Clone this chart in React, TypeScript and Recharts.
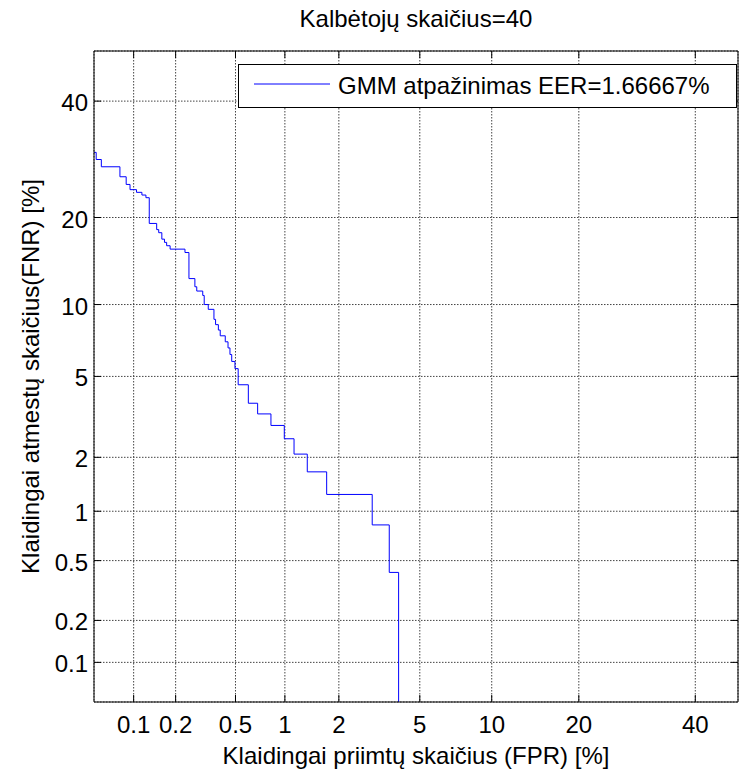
import React from 'react';
import { LineChart, Line, XAxis, YAxis, CartesianGrid, Legend } from 'recharts';

// DET curve values, in percent
const fprTicks = [0.1, 0.2, 0.5, 1, 2, 5, 10, 20, 40];
const fnrTicks = [0.1, 0.2, 0.5, 1, 2, 5, 10, 20, 40];
const axisMinPct = 0.05;
const fprMaxPct = 48.5;
const fnrMaxPct = 50;

const fpr = [
  0.05, 0.052, 0.057, 0.079, 0.088, 0.094, 0.105, 0.115, 0.123, 0.13,
  0.147, 0.152, 0.16, 0.167, 0.173, 0.183, 0.232, 0.247, 0.271, 0.279,
  0.306, 0.313, 0.333, 0.363, 0.372, 0.388, 0.399, 0.43, 0.448, 0.461,
  0.473, 0.496, 0.52, 0.602, 0.687, 0.827, 0.992, 1.13, 1.344, 1.72,
  2.97, 3.6, 3.99,
];
const fnr = [
  30.42, 29.17, 27.92, 26.25, 25.0, 24.17, 23.75, 23.33, 22.92, 19.17,
  18.33, 17.92, 17.08, 16.67, 16.25, 15.83, 15.42, 12.5, 11.67, 11.25,
  10.83, 10.0, 9.58, 8.75, 8.33, 7.92, 7.5, 7.08, 6.67, 6.25,
  5.83, 5.42, 4.58, 3.75, 3.33, 2.92, 2.5, 2.08, 1.67, 1.25,
  0.83, 0.42, 0,
];

const seriesName = 'GMM atpažinimas EER=1.66667%';
const FONT = '"Liberation Sans", Arial, Helvetica, sans-serif';
const FS = 24;

// normal deviate (probit) of a percentage, Acklam's approximation
function ppnd(pct: number): number {
  const p = pct / 100;
  if (p <= 0) return -6;
  if (p >= 1) return 6;
  const a = [-39.69683028665376, 220.9460984245205, -275.9285104469687, 138.357751867269, -30.66479806614716, 2.506628277459239];
  const b = [-54.47609879822406, 161.5858368580409, -155.6989798598866, 66.80131188771972, -13.28068155288572];
  const c = [-0.007784894002430293, -0.3223964580411365, -2.400758277161838, -2.549732539343734, 4.374664141464968, 2.938163982698783];
  const d = [0.007784695709041462, 0.3224671290700398, 2.445134137142996, 3.754408661907416];
  const lo = 0.02425;
  if (p < lo) {
    const q = Math.sqrt(-2 * Math.log(p));
    return (((((c[0] * q + c[1]) * q + c[2]) * q + c[3]) * q + c[4]) * q + c[5]) /
      ((((d[0] * q + d[1]) * q + d[2]) * q + d[3]) * q + 1);
  }
  if (p <= 1 - lo) {
    const q = p - 0.5;
    const r = q * q;
    return (((((a[0] * r + a[1]) * r + a[2]) * r + a[3]) * r + a[4]) * r + a[5]) * q /
      (((((b[0] * r + b[1]) * r + b[2]) * r + b[3]) * r + b[4]) * r + 1);
  }
  const q = Math.sqrt(-2 * Math.log(1 - p));
  return -(((((c[0] * q + c[1]) * q + c[2]) * q + c[3]) * q + c[4]) * q + c[5]) /
    ((((d[0] * q + d[1]) * q + d[2]) * q + d[3]) * q + 1);
}

const data = fpr.map((v, i) => ({ x: ppnd(v), y: ppnd(fnr[i]) }));

const TICK = 7;

const BottomTick = (props: any) => {
  const { x, y, index } = props;
  return (
    <g>
      <line x1={x} y1={y} x2={x} y2={y - TICK} stroke="#000" />
      <text x={x} y={y + 31} textAnchor="middle" fontSize={FS} fontFamily={FONT} fill="#000">
        {fprTicks[index]}
      </text>
    </g>
  );
};

const TopTick = (props: any) => {
  const { x, y } = props;
  return <line x1={x} y1={y} x2={x} y2={y + TICK} stroke="#000" />;
};

const LeftTick = (props: any) => {
  const { x, y, index } = props;
  return (
    <g>
      <line x1={x} y1={y} x2={x + TICK} y2={y} stroke="#000" />
      <text x={x - 6} y={y + 10} textAnchor="end" fontSize={FS} fontFamily={FONT} fill="#000">
        {fnrTicks[index]}
      </text>
    </g>
  );
};

const RightTick = (props: any) => {
  const { x, y } = props;
  return <line x1={x - TICK} y1={y} x2={x} y2={y} stroke="#000" />;
};

const LegendBox = () => (
  <div
    style={{
      border: '1px solid #000',
      background: '#fff',
      width: 499,
      height: 44,
      display: 'flex',
      alignItems: 'center',
      boxSizing: 'border-box',
      fontFamily: FONT,
      fontSize: FS,
      color: '#000',
      whiteSpace: 'nowrap',
    }}
  >
    <svg width={99} height={20} style={{ display: 'block', flex: 'none' }}>
      <line x1={15} y1={8} x2={91} y2={8} stroke="#0000ff" strokeWidth={1} />
    </svg>
    <span>{seriesName}</span>
  </div>
);

export default function App() {
  const xDomain = [ppnd(axisMinPct), ppnd(fprMaxPct)];
  const yDomain = [ppnd(axisMinPct), ppnd(fnrMaxPct)];
  return (
    <div style={{ position: 'relative', width: 739, height: 774, background: '#fff' }}>
      <style>{'body{margin:0}'}</style>
      <div
        style={{
          position: 'absolute',
          top: 7,
          left: 94,
          width: 644,
          textAlign: 'center',
          fontFamily: FONT,
          fontSize: FS,
          lineHeight: 1,
          color: '#000',
        }}
      >
        Kalbėtojų skaičius=40
      </div>
      <LineChart width={739} height={774} data={data} margin={{ top: 41, right: 0, bottom: 42, left: 34 }}>
        <CartesianGrid
          xAxisId="b"
          yAxisId="l"
          stroke="#444"
          strokeDasharray="1.5 1.5"
          strokeWidth={1}
        />
        <XAxis
          xAxisId="b"
          dataKey="x"
          type="number"
          domain={xDomain}
          ticks={fprTicks.map(ppnd)}
          allowDataOverflow
          height={30}
          tickSize={0}
          tickMargin={0}
          tickLine={false}
          axisLine={{ stroke: '#000' }}
          tick={<BottomTick />}
          interval={0}
          label={{
            value: 'Klaidingai priimtų skaičius (FPR) [%]',
            position: 'bottom',
            offset: 15,
            style: { fontFamily: FONT, fontSize: FS, fill: '#000' },
          }}
        />
        <XAxis
          xAxisId="t"
          orientation="top"
          dataKey="x"
          type="number"
          domain={xDomain}
          ticks={fprTicks.map(ppnd)}
          allowDataOverflow
          height={10}
          tickSize={0}
          tickMargin={0}
          tickLine={false}
          axisLine={{ stroke: '#000' }}
          tick={<TopTick />}
          interval={0}
        />
        <YAxis
          yAxisId="l"
          dataKey="y"
          type="number"
          domain={yDomain}
          ticks={fnrTicks.map(ppnd)}
          allowDataOverflow
          width={60}
          tickSize={0}
          tickMargin={0}
          tickLine={false}
          axisLine={{ stroke: '#000' }}
          tick={<LeftTick />}
          interval={0}
          label={{
            value: 'Klaidingai atmestų skaičius(FNR) [%]',
            angle: -90,
            position: 'left',
            offset: 4,
            style: { fontFamily: FONT, fontSize: FS, fill: '#000', textAnchor: 'middle' },
          }}
        />
        <YAxis
          yAxisId="r"
          orientation="right"
          dataKey="y"
          type="number"
          domain={yDomain}
          ticks={fnrTicks.map(ppnd)}
          allowDataOverflow
          width={1}
          tickSize={0}
          tickMargin={0}
          tickLine={false}
          axisLine={{ stroke: '#000' }}
          tick={<RightTick />}
          interval={0}
        />
        <Legend
          layout="vertical"
          align="center"
          verticalAlign="middle"
          content={<LegendBox />}
          wrapperStyle={{ position: 'absolute', top: 64, left: 238, width: 'auto' }}
        />
        <Line
          xAxisId="b"
          yAxisId="l"
          dataKey="y"
          name={seriesName}
          type="stepAfter"
          stroke="#0000ff"
          strokeWidth={1}
          dot={false}
          activeDot={false}
          isAnimationActive={false}
        />
      </LineChart>
    </div>
  );
}
